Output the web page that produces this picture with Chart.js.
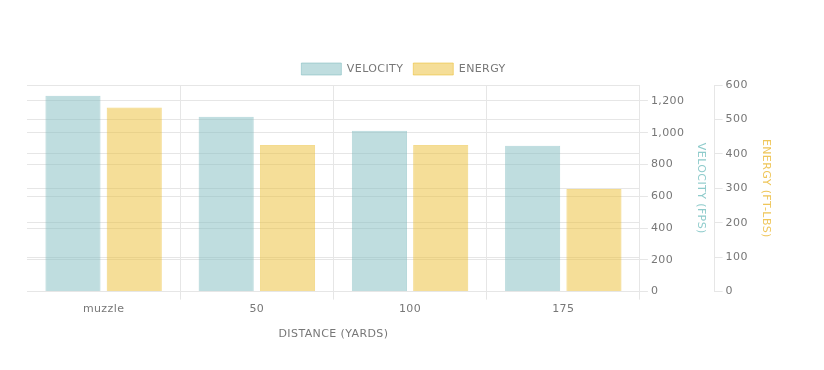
<!DOCTYPE html>
<html>
<head>
<meta charset="utf-8">
<script src="https://cdn.jsdelivr.net/npm/chart.js@4/dist/chart.umd.min.js"></script>
<style>
  html, body { margin: 0; padding: 0; background: #fff; }
  #wrap { width: 824px; height: 370px; }
</style>
</head>
<body>
<div id="wrap"><canvas id="chart1"></canvas></div>
<script>
const distances = ["muzzle", "50", "100", "175"];
const velocity = [1232, 1100, 1012, 918];
const energy = [535, 426, 426, 298];

const fontFam = "'DejaVu Sans', sans-serif";

// slight letter spacing, the original uses a wide geometric font
const spacing = {
  id: "spacing",
  beforeUpdate(chart) { chart.ctx.letterSpacing = "0.4px"; },
  beforeDraw(chart) { chart.ctx.letterSpacing = "0.4px"; }
};

function renderChart() {
  const ctx = document.querySelector("#chart1").getContext("2d");
  const chart = new Chart(ctx, {
    type: "bar",
    data: {
      labels: distances,
      datasets: [
        {
          label: "VELOCITY",
          data: velocity,
          yAxisID: "yVel",
          backgroundColor: "rgba(127,188,191,0.5)",
          borderColor: "rgba(127,188,191,0.55)",
          borderWidth: 1,
        },
        {
          label: "ENERGY",
          data: energy,
          yAxisID: "yEn",
          backgroundColor: "rgba(235,190,50,0.5)",
          borderColor: "rgba(235,190,50,0.55)",
          borderWidth: 1,
        },
      ],
    },
    options: {
      responsive: true,
      maintainAspectRatio: false,
      animation: false,
      layout: { padding: { left: 27, right: 44, top: 53, bottom: 25 } },
      plugins: {
        legend: {
          position: "top",
          labels: {
            boxWidth: 40,
            boxHeight: 12,
            color: "#777",
            font: { family: fontFam, size: 11 },
          },
        },
        tooltip: { enabled: false },
      },
      scales: {
        x: {
          grid: {
            color: (c) => (c.index === 0 ? "rgba(0,0,0,0)" : "#e6e6e6"),
            tickLength: 8,
          },
          border: { color: "#e6e6e6" },
          ticks: { color: "#777", font: { family: fontFam, size: 11 }, padding: 3 },
          title: {
            display: true,
            text: "DISTANCE (YARDS)",
            color: "#777",
            font: { family: fontFam, size: 11 },
            padding: { top: 9, bottom: 4 },
          },
        },
        yVel: {
          position: "right",
          weight: 1,
          min: 0,
          max: 1300,
          afterBuildTicks: (axis) => {
            axis.ticks = axis.ticks.filter((t) => t.value % 200 === 0);
          },
          grid: { color: "#e6e6e6", tickLength: 8 },
          border: { color: "#e6e6e6" },
          ticks: {
            stepSize: 200,
            color: "#777",
            font: { family: fontFam, size: 11 },
            padding: 3,
          },
          title: {
            display: true,
            text: "VELOCITY (FPS)",
            color: "#8ecbcb",
            font: { family: fontFam, size: 11 },
            padding: 7,
          },
        },
        yEn: {
          position: "right",
          weight: 2,
          min: 0,
          max: 600,
          grid: { color: "#e6e6e6", tickLength: 8 },
          border: { color: "#e6e6e6" },
          ticks: {
            stepSize: 100,
            color: "#777",
            font: { family: fontFam, size: 11 },
            padding: 3,
          },
          title: {
            display: true,
            text: "ENERGY (FT-LBS)",
            color: "#efc65a",
            font: { family: fontFam, size: 11 },
            padding: 8,
          },
        },
      },
    },
    plugins: [spacing],
  });
}
renderChart();
</script>
</body>
</html>
